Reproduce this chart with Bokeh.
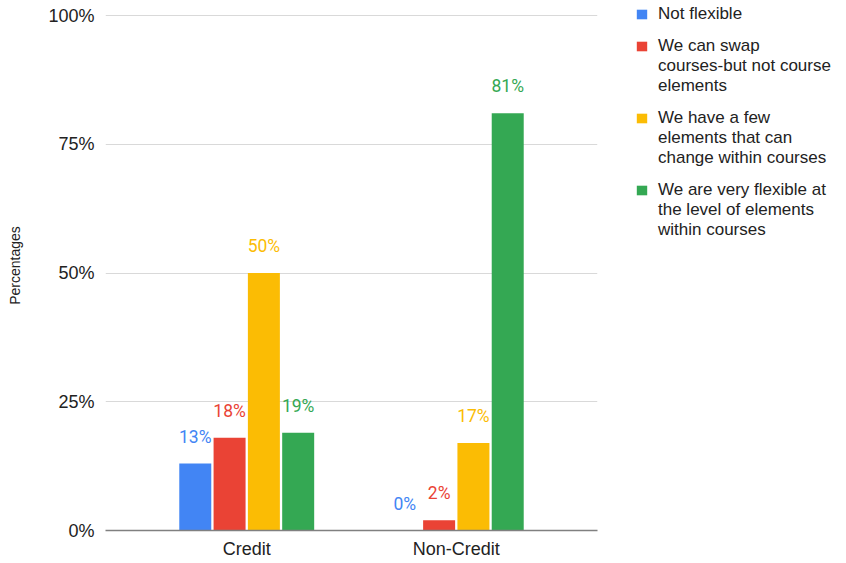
from bokeh.plotting import figure
from bokeh.models import (ColumnDataSource, FactorRange, Range1d, FixedTicker,
                          PrintfTickFormatter, Legend, LegendItem)
from bokeh.transform import dodge
from bokeh.core.properties import value
from bokeh.embed import file_html
from bokeh.resources import INLINE

categories = ["Credit", "Non-Credit"]
series_lines = [
    ["Not flexible"],
    ["We can swap", "courses-but not course", "elements"],
    ["We have a few", "elements that can", "change within courses"],
    ["We are very flexible at", "the level of elements", "within courses"],
]
series_values = [
    [13, 0],   # Not flexible
    [18, 2],   # We can swap courses
    [50, 17],  # We have a few elements
    [19, 81],  # Very flexible
]
colors = ["#4285F4", "#EA4335", "#FBBC04", "#34A853"]
y_ticks = [0, 25, 50, 75, 100]

FONT = "Liberation Sans"

p = figure(frame_width=492, frame_height=530, output_backend="svg",
           toolbar_location=None,
           x_range=FactorRange(*categories, range_padding=0.174,
                               range_padding_units="absolute"),
           y_range=Range1d(0, 100 * 530 / 515),
           min_border_left=105, min_border_right=249, min_border_top=0,
           min_border_bottom=33)
p.outline_line_color = None
p.background_fill_color = "white"
p.border_fill_color = "white"

bar_w = 0.1527
step = 0.1637
offsets = [-1.5 * step, -0.5 * step, 0.5 * step, 1.5 * step]

# invisible renderer for legend continuation lines and spacers
blank = p.vbar(x=[], top=[], width=0.1, fill_alpha=0, line_alpha=0)

items = []
for k, (lines, vals, col, off) in enumerate(zip(series_lines, series_values, colors, offsets)):
    src = ColumnDataSource(dict(x=categories, top=vals,
                                label=[f"{v}%" for v in vals]))
    r = p.vbar(x=dodge("x", off, range=p.x_range), top="top", width=bar_w,
               source=src, fill_color=col, line_color=None)
    p.text(x=dodge("x", off, range=p.x_range), y="top", text="label", source=src,
           text_color=col, text_align="center", text_baseline="alphabetic",
           y_offset=-27, text_font=value("Roboto"), text_font_size="17.5px")
    if k > 0:
        items.append(LegendItem(label="", renderers=[blank]))
    items.append(LegendItem(label=lines[0], renderers=[r]))
    for extra in lines[1:]:
        items.append(LegendItem(label=extra, renderers=[blank]))

legend = Legend(items=items, location=(38, 290), margin=0, padding=0, spacing=0,
                glyph_width=13, glyph_height=12, label_height=12, label_standoff=10,
                label_text_font=FONT, label_text_font_size="17px",
                label_text_color="#222222",
                border_line_color=None, background_fill_alpha=0)
p.add_layout(legend, "right")

# axes
p.xaxis.axis_line_color = "#808080"
p.xaxis.axis_line_width = 1.4
p.xaxis.major_tick_line_color = None
p.xaxis.major_tick_out = 0
p.xaxis.major_tick_in = 0
p.xaxis.minor_tick_line_color = None
p.xaxis.major_label_text_font = FONT
p.xaxis.major_label_text_font_size = "18px"
p.xaxis.major_label_text_color = "#222222"
p.xaxis.major_label_standoff = 8

p.yaxis.ticker = FixedTicker(ticks=y_ticks)
p.yaxis.formatter = PrintfTickFormatter(format="%d%%")
p.yaxis.axis_line_color = None
p.yaxis.major_tick_line_color = None
p.yaxis.major_tick_out = 0
p.yaxis.major_tick_in = 0
p.yaxis.minor_tick_line_color = None
p.yaxis.major_label_text_font = FONT
p.yaxis.major_label_text_font_size = "18px"
p.yaxis.major_label_text_color = "#222222"
p.yaxis.major_label_standoff = 11
p.yaxis.axis_label = "Percentages"
p.yaxis.axis_label_text_font = FONT
p.yaxis.axis_label_text_font_size = "14px"
p.yaxis.axis_label_text_font_style = "normal"
p.yaxis.axis_label_text_color = "#222222"
p.yaxis.axis_label_standoff = 22

p.xgrid.grid_line_color = None
p.ygrid.ticker = FixedTicker(ticks=y_ticks)
p.ygrid.grid_line_color = "#d9d9d9"
p.ygrid.grid_line_width = 1

open("out.html", "w").write(file_html(p, INLINE))
